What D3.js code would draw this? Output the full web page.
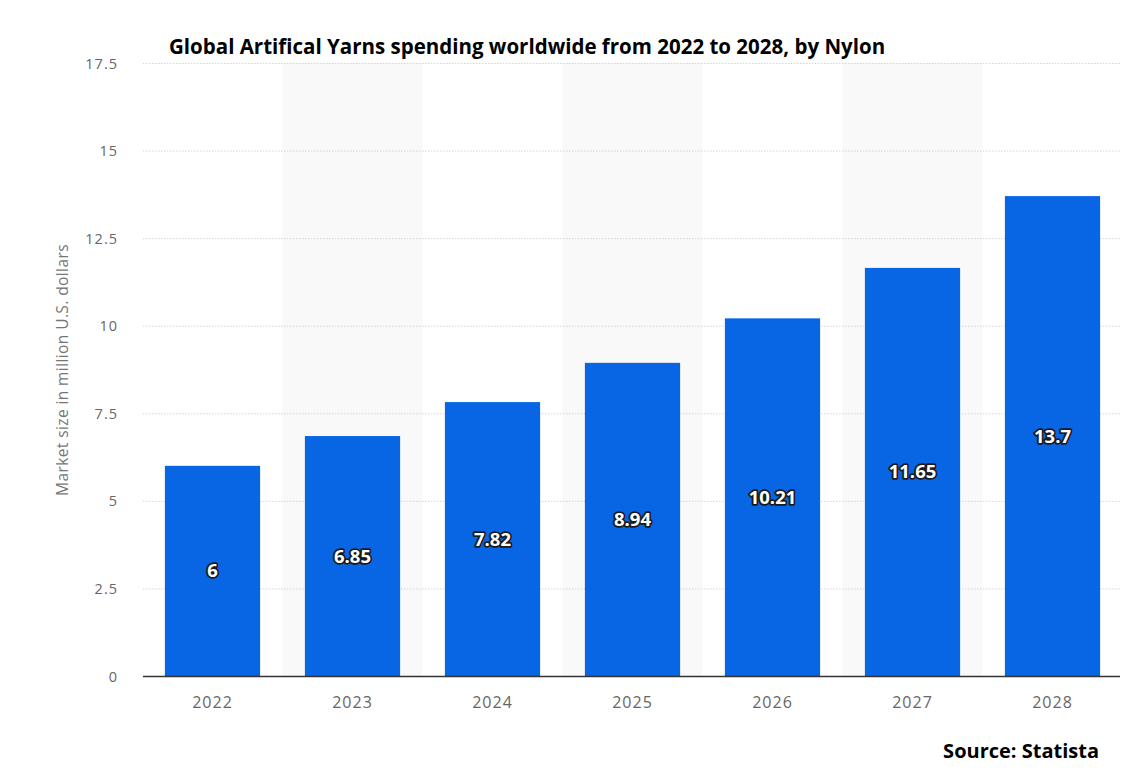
<!DOCTYPE html>
<html><head><meta charset="utf-8">
<script src="https://cdn.jsdelivr.net/npm/d3@7"></script>
<style>body{margin:0;background:#fff;} svg{display:block;}</style>
</head><body>
<svg id="c" width="1144" height="776"></svg>
<script>
const categories = ["2022","2023","2024","2025","2026","2027","2028"];
const values = [6, 6.85, 7.82, 8.94, 10.21, 11.65, 13.7];
const yTicks = [0, 2.5, 5, 7.5, 10, 12.5, 15, 17.5];
const yTickLabels = ["0","2.5","5","7.5","10","12.5","15","17.5"];
const titleText = "Global Artifical Yarns spending worldwide from 2022 to 2028, by Nylon";
const yAxisTitle = "Market size in million U.S. dollars";
const sourceText = "Source: Statista";

const svg = d3.select("#c");
const x = d3.scaleBand().domain(categories).range([142.5, 1122.5]).paddingInner(0.32).paddingOuter(0.16);
const y = d3.scaleLinear().domain([0, 17.5]).range([676, 63]);
const step = x.step();

// alternating column shading
svg.append("g").selectAll("rect").data(categories.filter((d,i)=>i%2===1)).join("rect")
  .attr("x", d => x(d) + x.bandwidth()/2 - step/2)
  .attr("width", step)
  .attr("y", y(17.5))
  .attr("height", y(0) - y(17.5))
  .attr("fill", "#f9f9f9");

// gridlines
svg.append("g").selectAll("line").data(yTicks.filter(d=>d>0)).join("line")
  .attr("x1", 143).attr("x2", 1120)
  .attr("y1", d => y(d)+0.5).attr("y2", d => y(d)+0.5)
  .attr("stroke", "#d4d4d4").attr("stroke-width", 1).attr("stroke-dasharray", "1.5,1.5");

// y tick labels
const yAxis = d3.axisLeft(y).tickValues(yTicks).tickFormat((d,i)=>yTickLabels[i]).tickSize(0).tickPadding(0);
const ga = svg.append("g").attr("transform","translate(118,0)").call(yAxis);
ga.select(".domain").remove();
ga.selectAll("text").attr("fill","#666").attr("font-family","'Open Sans', sans-serif").attr("font-size",14.5).attr("letter-spacing","1").attr("dy","0.35em");

// bars
svg.append("g").selectAll("rect").data(values).join("rect")
  .attr("x", (d,i) => x(categories[i]))
  .attr("width", x.bandwidth())
  .attr("y", d => y(d))
  .attr("height", d => y(0) - y(d))
  .attr("fill", "#0865e3");

// baseline
svg.append("line").attr("x1",143).attr("x2",1120).attr("y1",y(0)+0.5).attr("y2",y(0)+0.5)
  .attr("stroke","#333").attr("stroke-width",1.5);

// x axis labels
const xAxis = d3.axisBottom(x).tickSize(0).tickPadding(0);
const gx = svg.append("g").attr("transform","translate(0,702)").call(xAxis);
gx.select(".domain").remove();
gx.selectAll("text").attr("fill","#666").attr("font-family","'Open Sans', sans-serif").attr("font-size",16).attr("letter-spacing","1").attr("dy","0.35em");

// value labels
svg.append("g").selectAll("text").data(values).join("text")
  .attr("x", (d,i) => x(categories[i]) + x.bandwidth()/2)
  .attr("y", d => (y(d)+y(0))/2)
  .attr("dy","0.35em")
  .attr("text-anchor","middle")
  .attr("font-family","'Open Sans', sans-serif").attr("font-weight",700).attr("font-size",18.5)
  .attr("fill","#fff").attr("stroke","#1a1a1a").attr("stroke-width",3.5).attr("stroke-linejoin","round")
  .attr("paint-order","stroke")
  .text(d => String(d));

// y axis title
svg.append("text").attr("transform","translate(68,370) rotate(-90)")
  .attr("text-anchor","middle").attr("fill","#777")
  .attr("font-family","'Open Sans', sans-serif").attr("font-size",15.5)
  .attr("letter-spacing","0.4")
  .text(yAxisTitle);

// title
svg.append("text").attr("x",169).attr("y",54)
  .attr("font-family","'Open Sans', sans-serif").attr("font-weight",700).attr("font-size",20.5)
  .attr("fill","#000").attr("letter-spacing","0")
  .text(titleText);

// source
svg.append("text").attr("x",1099).attr("y",758).attr("text-anchor","end")
  .attr("font-family","'Open Sans', sans-serif").attr("font-weight",700).attr("font-size",20)
  .attr("fill","#000").attr("letter-spacing","0")
  .text(sourceText);
</script>
</body></html>
